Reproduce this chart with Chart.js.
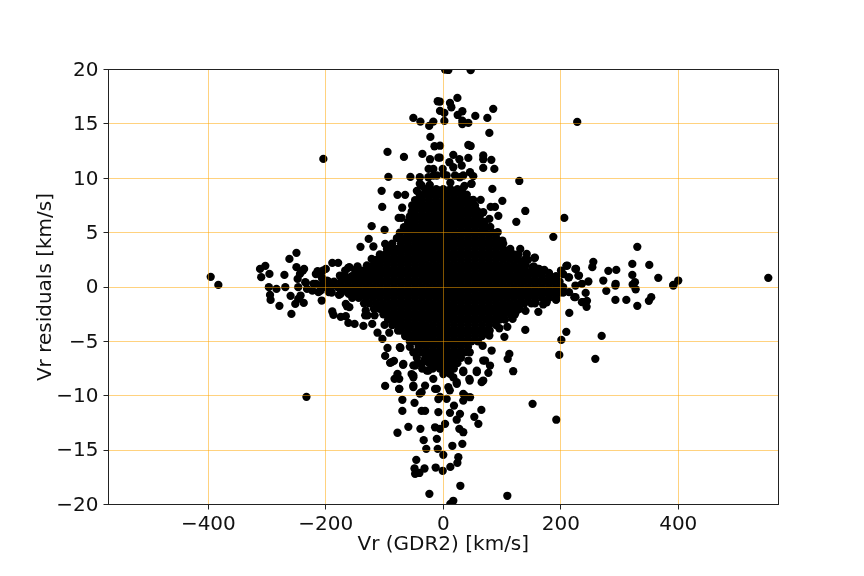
<!DOCTYPE html>
<html><head><meta charset="utf-8">
<style>html,body{margin:0;padding:0;background:#fff}canvas{display:block}</style>
<script src="https://cdn.jsdelivr.net/npm/chart.js@4"></script>
</head><body><canvas id="c" width="864" height="576"></canvas>
<script>
const xTickValues = [-400,-200,0,200,400];
const yTickValues = [-20,-15,-10,-5,0,5,10,15,20];
const xAxisLabel = "Vr (GDR2) [km/s]";
const yAxisLabel = "Vr residuals [km/s]";

// [Vr, residual], upper-left sparse stars
const upperLeft = [[-396,.94],[-383,.2],[-204.2,11.79],[-250,3.15],[-262,2.59],[-303,1.95],[-312,1.67],[-296,1.21],[-310,.91],[-270.5,1.12],[-297,-.01],[-284,-.17],[-269,-.01],[-250,1.83],[-239,1.52],[-244,1.21],[-248,.75],[-235,.45],[-247,-.01],[-189,2.23],[-179,2.23],[-214,1.46],[-205,1.52],[-162,1.77],[-148,1.67],[-167,1.52],[-130,1.52],[-207,.91],[-198,.6],[-176,1.06],[-221,.3],[-210,.14],[-141,3.7],[-127,4.43],[-122,5.6],[-100,5.26],[-119,3.73],[-99,3.97],[-88,3.88],[-122,2.59],[-116,2.44],[-100,2.96],[-74,4.6],[-65,5.2],[-76,6.36],[-71,6.36],[-70,7.3],[-104,7.37],[-105,8.85],[-78,8.48],[-65,8.48],[-93.5,10.13],[-56,10.13],[-45,8.85],[-95,12.43],[-67,11.97],[-35.6,12.25],[-22.6,11.76],[-40,10.1],[-25.4,10.1],[-11,10.26],[-37,9.34],[-25,10.87],[-17,10.87],[-8.4,11.9],[-15,12.95],[-5.6,13],[-22,13.81],[-24,14.82],[-17,15.22],[-51,15.56],[-39,15.22],[-9.5,17.09],[-25.4,8.72],[-17,8.57],[-8.4,8.88],[-40,8.1],[-54,6.9],[-57,5.8],[-40,9.5],[-17,10.25],[0,10.4],[-23,9.4],[-237,1.67],[-200,1.67],[-217,1.2],[-206,.75],[-234,.39],[-217,.3],[-200,.3],[-232,-.17],[-223,-.32],[-209,-.32],[-160,1.83],[-146,1.9]];
const upperRight = [[228,15.19],[85,16.39],[24,17.4],[11.4,16.94],[13.7,16.54],[-5.6,17.06],[1.8,16.02],[1.8,15.28],[32.4,16.17],[24.5,15.83],[54.5,15.74],[75,15.56],[32.4,15.3],[32.4,15],[42.6,15.1],[78.4,14.18],[42.6,13.07],[46.6,12.98],[-5.6,16.2],[68,12.1],[68,11.76],[81.8,11.7],[42.6,11.88],[17,12.16],[27.3,11.76],[10.3,11.48],[17,11.02],[31.3,11.18],[68,10.96],[86.9,10.87],[-1,10.87],[-5.6,11.9],[45.5,10.56],[51,10.2],[34,10.26],[20,10.26],[5.7,10.26],[129.4,9.76],[47.7,9.49],[83.5,9.03],[100.5,7.93],[63.6,8.02],[51,8.02],[80.6,7.37],[88,7.37],[139.6,7],[93.7,6.55],[78.4,6.27],[68,6.88],[124.3,6],[206,6.36],[80,5.54],[187.3,4.62],[92.6,5.05],[100.5,4.28],[113.5,3.36],[131,3.5],[142,3.05],[155,2.69],[152,1.83],[161,1.67],[172,1.58],[330.3,3.7],[255.4,2.32],[253.7,1.83],[321.8,2.13],[350.7,2.04],[281,1.49],[294.5,1.58],[209.4,1.95],[224.8,1.67],[200.4,1.52],[230,1.06],[321.8,1.12],[366,.85],[272.4,.6],[293.4,.3],[247,.51],[326.3,.45],[322.4,.23],[400,.6],[391.6,.2],[553.3,.85],[213,.9],[190,.9],[46.6,19.95],[3,20],[8.6,19.97],[48,9.5],[28,10.1],[12,9.6],[36,9.3],[154,1.89],[163,1.67],[156,2.7],[211,1.98],[226,1.67],[231,1.06],[214,.9],[236,.3],[225,.14],[191,.9],[204,1.2],[180,1.3]];
const lowerLeft = [[-295,-.72],[-294,-1.18],[-279,-1.73],[-260,-.81],[-258.6,-2.47],[-252,-1.55],[-247,-1.09],[-237.6,-1.46],[-207,-1.24],[-189,-2.25],[-187,-2.56],[-174.6,-2.74],[-166,-2.68],[-161.6,-3.3],[-151,-3.39],[-136,-3.57],[-121,-3.39],[-100,-3.48],[-92,-4.2],[-112,-4.2],[-103.7,-4.77],[-95,-5.6],[-73,-5.6],[-99,-6.33],[-90.6,-6.97],[-84,-6.79],[-68.5,-7.16],[-78,-7.98],[-83,-8.44],[-75,-8.44],[-99,-9.09],[-75,-9.36],[-69.7,-10.37],[-49,-10.65],[-69.7,-11.39],[-36.8,-11.39],[-31,-11.39],[-233,-10.1],[-78,-13.4],[-59.5,-12.86],[-39,-13.04],[-33.4,-14.08],[-29,-14.88],[-46,-15.89],[-49,-16.69],[-48,-17.18],[-40.7,-17.1],[-32,-16.69],[-13,-16.6],[-23.7,-19.02],[-14,-12.9],[-11,-13.96],[-9.5,-14.88],[-8.4,-11.5],[-8.4,-10.3],[-11,-9.36],[-51,-9.06],[-37,-9.67],[-31,-9.06],[-48,-7.22],[-25.4,-7.68],[-51,-8.14],[-17,-8.44],[-51,-6],[-31,-6.6],[-133,-2.6],[-117,-2.6],[-102,-2.25],[-164,-1.76],[-177.5,-.72],[-212.6,-.47],[-90.6,-2.93],[-79,-3.23],[-54,-8],[-14,-9.37],[-40,-9.8],[-5.6,-10.1],[0,-8],[-243,-.78],[-195,-.47],[-175,-.63],[-161,-.63],[-166,-1.55],[-160,-1.85],[-132,-2.16],[-129,-2.6],[-74,-5.53],[-88,-6.9],[-68,-7.07],[-51,-7.2],[-28,-7.68],[-51,-8.3],[-79,-8.3],[-75,-9.37],[-51,-9.2]];
const lowerRight = [[109,-19.2],[29,-18.28],[17,-19.66],[12,-19.94],[12,-16.54],[-1,-16.9],[24,-16.17],[25.6,-15.65],[0,-15.43],[15.4,-14.6],[32.4,-14.42],[34,-13.35],[27.3,-13.04],[59.7,-12.58],[52.8,-11.94],[64.8,-11.3],[28.4,-11.66],[11.4,-11.57],[22.8,-12.2],[3,-12.58],[-5.6,-13.04],[152,-10.74],[192.4,-12.2],[18.2,-10.9],[45.5,-10.13],[34,-10.44],[34,-9.82],[5.7,-10.28],[119,-7.74],[109.6,-6.6],[112.4,-6.15],[76.7,-7.89],[79.5,-7.22],[68,-6.76],[65.3,-8.75],[57,-7.83],[44.3,-8.44],[22.8,-8.75],[8.6,-9.2],[11.4,-7.98],[34,-7.83],[42.6,-6.76],[82.3,-5.84],[197.5,-6.24],[201,-4.86],[209.4,-4.12],[258.8,-6.6],[269.6,-4.49],[139.6,-3.94],[104,-4.58],[78.4,-4.46],[109,-3.66],[95.4,-3.79],[118,-2.93],[161.8,-2.28],[214.5,-2.38],[140,-2.19],[125,-2.16],[192,-1.18],[176,-1.4],[223,-.93],[244,-1.82],[238,-1.39],[244.6,-1.27],[293,-1.18],[311.6,-1.18],[330.3,-1.73],[350,-1.27],[354,-.93],[277.5,-.35],[327.5,-.2],[293,.14],[391.6,.14],[242.4,-.54],[67,-5.4],[23,-8.9],[45,-8.6],[68,-8.6],[214,-.47],[225,-.93],[236,-1.39],[157,-1.39],[170,-1.6],[17,-8.3],[34,-7.7],[57,-7.7],[71,-6.76],[11,-9.5],[37,-10]];

// Dense core: residual levels and the Vr values of the stars read along each level
const coreResiduals = [9,8.5,8,7.5,7,6.5,6,5.5,5,4.5,4,3.5,3,2.5,2,1.5,1,.5,0,-.5,-1,-1.5,-2,-2.5,-3,-3.5,-4,-4.5,-5,-5.5,-6,-6.5,-7,-7.5];
const coreVr = [
[-31,-24,-12,0,12,24,32],
[-40,-30,-18,-6,6,18,30,40],
[-48,-36,-24,-12,0,12,24,36,48],
[-53,-42,-30,-18,-6,6,18,30,42,54],
[-53,-48,-36,-24,-12,0,12,24,36,48,58],
[-57,-54,-42,-30,-18,-6,6,18,30,42,54,62],
[-60,-48,-36,-24,-12,0,12,24,36,48,60,70],
[-67,-54,-42,-30,-18,-6,6,18,30,42,54,66,72],
[-74,-60,-48,-36,-24,-12,0,12,24,36,48,60,72,84],
[-79,-66,-54,-42,-30,-18,-6,6,18,30,42,54,66,78,90],
[-87,-72,-60,-48,-36,-24,-12,0,12,24,36,48,60,72,84,96,102],
[-96,-90,-78,-66,-54,-42,-30,-18,-6,6,18,30,42,54,66,78,90,102,114],
[-108,-96,-84,-72,-60,-48,-36,-24,-12,0,12,24,36,48,60,72,84,96,108,120,128],
[-114,-102,-90,-78,-66,-54,-42,-30,-18,-6,6,18,30,42,54,66,78,90,102,114,126,138,144],
[-130,-120,-108,-96,-84,-72,-60,-48,-36,-24,-12,0,12,24,36,48,60,72,84,96,108,120,132,140],
[-150,-138,-126,-114,-102,-90,-78,-66,-54,-42,-30,-18,-6,6,18,30,42,54,66,78,90,102,114,126,138,150,162,168],
[-175,-168,-156,-144,-132,-120,-108,-96,-84,-72,-60,-48,-36,-24,-12,0,12,24,36,48,60,72,84,96,108,120,132,144,156,168,180,192],
[-195,-186,-174,-162,-150,-138,-126,-114,-102,-90,-78,-66,-54,-42,-30,-18,-6,6,18,30,42,54,66,78,90,102,114,126,138,150,162,174,186,198],
[-200,-192,-180,-168,-156,-144,-132,-120,-108,-96,-84,-72,-60,-48,-36,-24,-12,0,12,24,36,48,60,72,84,96,108,120,132,144,156,168,180,192,204],
[-190,-174,-162,-150,-138,-126,-114,-102,-90,-78,-66,-54,-42,-30,-18,-6,6,18,30,42,54,66,78,90,102,114,126,138,150,162,174,186,198,204],
[-155,-144,-132,-120,-108,-96,-84,-72,-60,-48,-36,-24,-12,0,12,24,36,48,60,72,84,96,108,120,132,144,156,168,180,192],
[-135,-126,-114,-102,-90,-78,-66,-54,-42,-30,-18,-6,6,18,30,42,54,66,78,90,102,114,126,138,150,156],
[-118,-108,-96,-84,-72,-60,-48,-36,-24,-12,0,12,24,36,48,60,72,84,96,108,120,130],
[-102,-90,-78,-66,-54,-42,-30,-18,-6,6,18,30,42,54,66,78,90,102,114,122],
[-94,-84,-72,-60,-48,-36,-24,-12,0,12,24,36,48,60,72,84,96,105],
[-87,-78,-66,-54,-42,-30,-18,-6,6,18,30,42,54,66,78,90],
[-77,-72,-60,-48,-36,-24,-12,0,12,24,36,48,60,72,79],
[-65,-54,-42,-30,-18,-6,6,18,30,42,54,66],
[-57,-48,-36,-24,-12,0,12,24,36,48,59],
[-57,-42,-30,-18,-6,6,18,30,42],
[-48,-36,-24,-12,0,12,24,36,45],
[-45,-30,-18,-6,6,18,30],
[-43,-36,-24,-12,0,12,24],
[-36,-18,-6,6,18]
];

const points = [];
[upperLeft, upperRight, lowerLeft, lowerRight].forEach(list => list.forEach(p => points.push({x:p[0], y:p[1]})));
coreResiduals.forEach((r,i) => coreVr[i].forEach(v => points.push({x:v, y:r})));

const fmt = v => String(v).replace('-', '\u2212');
const FONT = 'DejaVu Sans';
const frame = { id:'frame', afterDraw(ch){ const a=ch.chartArea,c=ch.ctx; const l=Math.floor(a.left),r=Math.floor(a.right),t=Math.floor(a.top),b=Math.floor(a.bottom); c.save(); c.strokeStyle='#222'; c.lineWidth=1; c.strokeRect(l+.5,t+.5,r-l,b-t); c.restore(); } };

new Chart(document.getElementById('c'), {
  type:'scatter',
  data:{datasets:[{data:points, backgroundColor:'#000', borderColor:'#000', borderWidth:0, pointRadius:4.15, pointHoverRadius:4.15, clip:0}]},
  plugins:[frame],
  options:{
    responsive:false, animation:false, events:[],
    layout:{padding:{top:69.62,right:85.9,left:0,bottom:0}},
    plugins:{legend:{display:false},tooltip:{enabled:false},title:{display:false}},
    scales:{
      x:{type:'linear',min:-570,max:570,
        afterBuildTicks:s=>{s.ticks=xTickValues.map(v=>({value:v}));},
        afterFit:s=>{s.height=71.5;},
        grid:{color:'rgba(255,165,0,0.5)',lineWidth:1,z:1,tickColor:'#222',tickLength:5},
        border:{display:false},
        ticks:{callback:fmt,color:'#111',font:{family:FONT,size:20},padding:3,maxRotation:0,autoSkip:false},
        title:{display:true,text:xAxisLabel,color:'#111',font:{family:FONT,size:20},padding:{top:19,bottom:19}}
      },
      y:{type:'linear',min:-20,max:20,
        afterBuildTicks:s=>{s.ticks=yTickValues.map(v=>({value:v}));},
        afterFit:s=>{s.width=108.5;},
        grid:{color:'rgba(255,165,0,0.5)',lineWidth:1,z:1,tickColor:'#222',tickLength:5},
        border:{display:false},
        ticks:{callback:fmt,color:'#111',font:{family:FONT,size:20},padding:5,labelOffset:1,autoSkip:false},
        title:{display:true,text:yAxisLabel,color:'#111',font:{family:FONT,size:20},padding:{top:34,bottom:34}}
      }
    }
  }
});
</script></body></html>
